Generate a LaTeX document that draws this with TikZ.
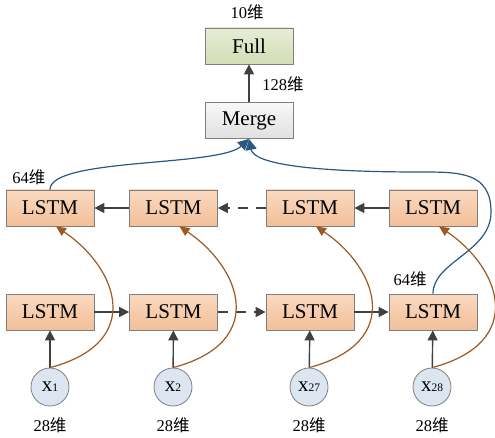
\documentclass[tikz,border=0pt]{standalone}
\usepackage{fontspec}
\setmainfont{Liberation Serif}
\newfontfamily\cjk{Noto Sans CJK SC}
\usetikzlibrary{arrows.meta,positioning,calc}
\definecolor{lstmtop}{HTML}{FAD9C0}
\definecolor{lstmbot}{HTML}{F2BF99}
\definecolor{fulltop}{HTML}{E6EDD7}
\definecolor{fullbot}{HTML}{D2DEB5}
\definecolor{mergetop}{HTML}{F8F8F8}
\definecolor{mergebot}{HTML}{E0E0E0}
\definecolor{xfill}{HTML}{DCE6F1}
\definecolor{edge}{HTML}{7F7F7F}
\definecolor{flow}{HTML}{404040}
\definecolor{mergeblue}{HTML}{2A5783}
\definecolor{skip}{HTML}{A0581E}
\newcommand{\wei}[1]{#1{\cjk 维}}

\begin{document}
\begin{tikzpicture}[x=1pt,y=-1pt,
	box/.style={draw=edge, line width=0.8pt, minimum width=88pt, minimum height=36pt,
		inner sep=0pt, font=\fontsize{21}{24}\selectfont},
	lstm/.style={box, top color=lstmtop, bottom color=lstmbot},
	xin/.style={circle, draw=edge, line width=0.8pt, fill=xfill, minimum size=38pt, inner sep=0pt},
	dim/.style={font=\fontsize{16.5}{19}\selectfont, inner sep=0pt},
	fwd/.style={draw=flow, line width=1.4pt, -{Triangle[length=10pt,width=10pt]}},
	hop/.style={fwd, dash pattern=on 10pt off 8pt},
	skipline/.style={draw=skip, line width=1.2pt, -{Triangle[length=10pt,width=9pt]}},
	mergeline/.style={draw=mergeblue, line width=1.2pt, -{Triangle[length=11pt,width=11pt]}}]
	\useasboundingbox (0,0) rectangle (495,438);

	% output part
	\node[box, top color=fulltop, bottom color=fullbot] (full) at (249,46) {Full};
	\node[box, top color=mergetop, bottom color=mergebot] (merge) at (249,120.5) {Merge};
	\node[dim] (outdim) at (247,12) {\wei{10}};
	\draw[fwd] (merge) -- (full);
	\node[dim] (mdim) at (283,84) {\wei{128}};

	% backward row
	\node[lstm] (t1) at (50,208) {LSTM};
	\node[lstm] (t2) at (173.5,208) {LSTM};
	\node[lstm] (t3) at (310,208) {LSTM};
	\node[lstm] (t4) at (433,208) {LSTM};
	\draw[fwd] (t2) -- (t1);
	\draw[hop] (t3) -- (t2);
	\draw[fwd] (t4) -- (t3);

	% forward row
	\node[lstm] (b1) at (50,312) {LSTM};
	\node[lstm] (b2) at (173.5,312) {LSTM};
	\node[lstm] (b3) at (310,312) {LSTM};
	\node[lstm] (b4) at (433,312) {LSTM};
	\draw[fwd] (b1) -- (b2);
	\draw[hop] (b2) -- (b3);
	\draw[fwd] (b3) -- (b4);

	% inputs
	\foreach \i/\s/\x in {1/1/50, 2/2/173, 3/27/309, 4/28/432}{
		\node[xin] (x\i) at (\x,387) {\fontsize{21}{22}\selectfont x\fontsize{11.5}{12}\selectfont\s};
		\node[dim] (xdim\i) at (\x,425) {\wei{28}};
		\draw[fwd] (x\i) -- (b\i);
		\draw[skipline] (x\i.north) .. controls +(95,-25) and +(62,42) .. ($(t\i.south)+(6,0)$);
	}

	% to merge
	\node[dim] (d1) at (29,177) {\wei{64}};
	\node[dim] (d4) at (410,279) {\wei{64}};
	\draw[mergeline] (t1.north) .. controls +(0,-32) and +(-30,28) .. (merge.south);
	\draw[mergeline] (b4.north) .. controls +(0,-32) and +(0,40) .. (491,212)
		.. controls +(0,-40) and +(40,0) .. (420,172)
		.. controls +(-110,0) and +(5,25) .. (merge.south);
\end{tikzpicture}
\end{document}
